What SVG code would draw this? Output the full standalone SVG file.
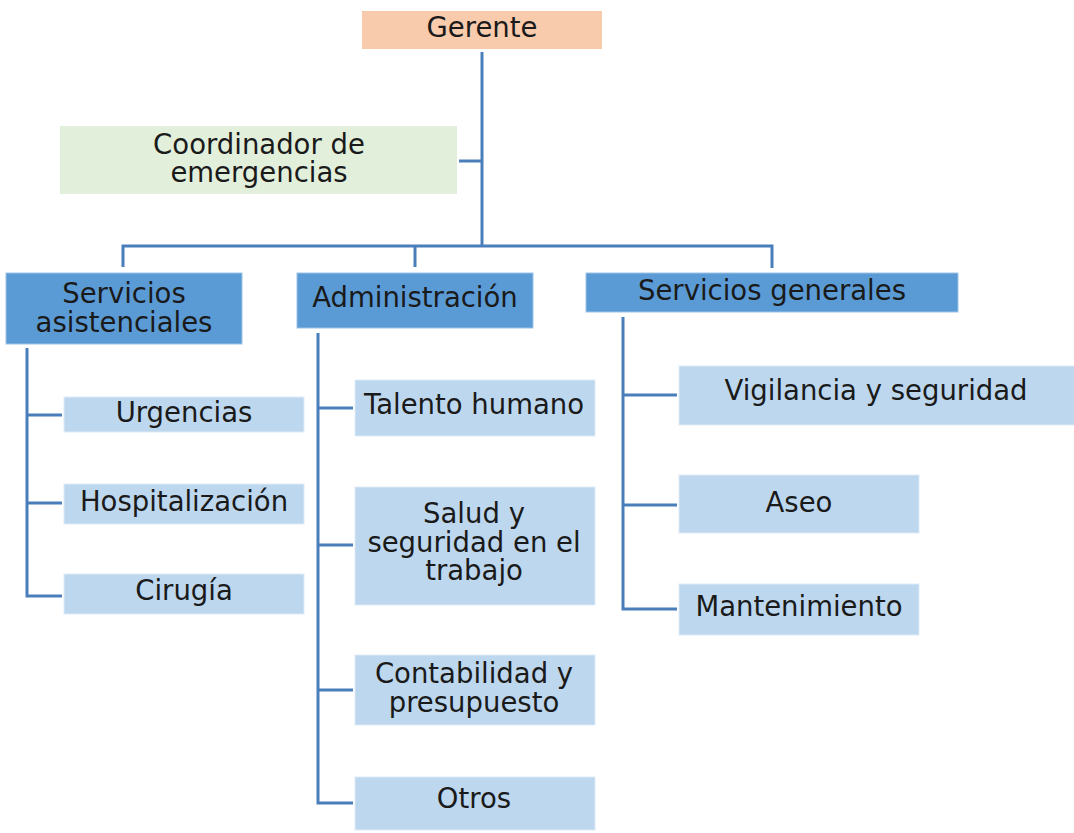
<svg xmlns="http://www.w3.org/2000/svg" width="1074" height="833" viewBox="0 0 1074 833">
<style>
text{font-family:"DejaVu Sans","Verdana",sans-serif;font-size:27.5px;fill:#1a1a1a;text-anchor:middle}
.top{fill:#F8CBAD}
.coord{fill:#E2EFDA}
.dept{fill:#5B9BD5;stroke:#9DC3E6;stroke-width:1}
.unit{fill:#BDD7EE;stroke:#DDEBF7;stroke-width:1}
.conn{fill:none;stroke:#4A7EBB;stroke-width:3}
</style>
<rect width="1074" height="833" fill="#ffffff"/>
<g id="connectors">
<path class="conn" d="M482,52 V246"/>
<path class="conn" d="M459,161 H482"/>
<path class="conn" d="M123,267 V246 H772 V268"/>
<path class="conn" d="M415,246 V267"/>
<path class="conn" d="M27,348 V596 H62 M27,415 H62 M27,503 H62"/>
<path class="conn" d="M318,333 V803 H353 M318,408 H353 M318,545 H353 M318,690 H353"/>
<path class="conn" d="M623,317 V609 H677 M623,395 H677 M623,505 H677"/>
</g>
<g id="gerente"><rect class="top" x="362" y="11" width="240" height="38"/><text x="482" y="37">Gerente</text></g>
<g id="coordinador"><rect class="coord" x="60" y="126" width="397" height="68"/><text x="259" y="154">Coordinador de</text><text x="259" y="182">emergencias</text></g>
<g id="servicios-asistenciales"><rect class="dept" x="6" y="273" width="236" height="71"/><text x="124" y="303">Servicios</text><text x="124" y="332">asistenciales</text></g>
<g id="administracion"><rect class="dept" x="297" y="273" width="236" height="55"/><text x="415" y="307">Administración</text></g>
<g id="servicios-generales"><rect class="dept" x="586" y="273" width="372" height="39"/><text x="772" y="300">Servicios generales</text></g>
<g id="urgencias"><rect class="unit" x="64" y="397" width="240" height="35"/><text x="184" y="422">Urgencias</text></g>
<g id="hospitalizacion"><rect class="unit" x="64" y="484" width="240" height="40"/><text x="184" y="511">Hospitalización</text></g>
<g id="cirugia"><rect class="unit" x="64" y="574" width="240" height="40"/><text x="184" y="600">Cirugía</text></g>
<g id="talento-humano"><rect class="unit" x="355" y="380" width="240" height="56"/><text x="474" y="414">Talento humano</text></g>
<g id="salud-seguridad"><rect class="unit" x="355" y="487" width="240" height="118"/><text x="474" y="523">Salud y</text><text x="474" y="552">seguridad en el</text><text x="474" y="580">trabajo</text></g>
<g id="contabilidad"><rect class="unit" x="355" y="655" width="240" height="70"/><text x="474" y="683">Contabilidad y</text><text x="474" y="712">presupuesto</text></g>
<g id="otros"><rect class="unit" x="355" y="777" width="240" height="53"/><text x="474" y="808">Otros</text></g>
<g id="vigilancia"><rect class="unit" x="679" y="366" width="396" height="59"/><text x="876" y="400">Vigilancia y seguridad</text></g>
<g id="aseo"><rect class="unit" x="679" y="475" width="240" height="58"/><text x="799" y="512">Aseo</text></g>
<g id="mantenimiento"><rect class="unit" x="679" y="584" width="240" height="51"/><text x="799" y="616">Mantenimiento</text></g>
</svg>
